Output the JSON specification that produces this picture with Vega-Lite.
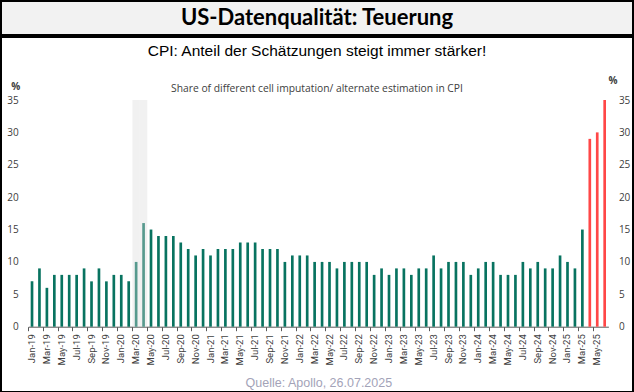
{
  "$schema": "https://vega.github.io/schema/vega-lite/v6.json",
  "padding": 0,
  "spacing": 0,
  "background": "white",
  "config": {"concat": {"spacing": 0}},
  "vconcat": [
    {
      "width": 632,
      "height": 34,
      "view": {"fill": "#f2f2f2", "stroke": "black", "strokeWidth": 2},
      "data": {"values": [{"title": "US-Datenqualität: Teuerung"}]},
      "mark": {"type": "text", "font": "Lato", "fontSize": 22, "fontWeight": "bold", "color": "black", "baseline": "middle", "align": "center", "dy": -0.5},
      "encoding": {"text": {"field": "title"}}
    },
    {
      "width": 632,
      "height": 355,
      "view": {"fill": "white", "stroke": "black", "strokeWidth": 2},
      "title": {
        "text": "CPI: Anteil der Schätzungen steigt immer stärker!",
        "subtitle": "Share of different cell imputation/ alternate estimation in CPI",
        "offset": -57,
        "anchor": "middle",
        "frame": "group",
        "font": "Liberation Sans",
        "fontSize": 15.5,
        "fontWeight": "normal",
        "color": "black",
        "subtitleFont": "Open Sans",
        "subtitleFontSize": 10.3,
        "subtitleColor": "#404040",
        "subtitlePadding": 24
      },
      "data": {"values": [
        {"m": "Jan-19", "date": "2019-01", "v": 7},
        {"m": "Feb-19", "date": "2019-02", "v": 9},
        {"m": "Mar-19", "date": "2019-03", "v": 6},
        {"m": "Apr-19", "date": "2019-04", "v": 8},
        {"m": "May-19", "date": "2019-05", "v": 8},
        {"m": "Jun-19", "date": "2019-06", "v": 8},
        {"m": "Jul-19", "date": "2019-07", "v": 8},
        {"m": "Aug-19", "date": "2019-08", "v": 9},
        {"m": "Sep-19", "date": "2019-09", "v": 7},
        {"m": "Oct-19", "date": "2019-10", "v": 9},
        {"m": "Nov-19", "date": "2019-11", "v": 7},
        {"m": "Dec-19", "date": "2019-12", "v": 8},
        {"m": "Jan-20", "date": "2020-01", "v": 8},
        {"m": "Feb-20", "date": "2020-02", "v": 7},
        {"m": "Mar-20", "date": "2020-03", "v": 10},
        {"m": "Apr-20", "date": "2020-04", "v": 16},
        {"m": "May-20", "date": "2020-05", "v": 15},
        {"m": "Jun-20", "date": "2020-06", "v": 14},
        {"m": "Jul-20", "date": "2020-07", "v": 14},
        {"m": "Aug-20", "date": "2020-08", "v": 14},
        {"m": "Sep-20", "date": "2020-09", "v": 13},
        {"m": "Oct-20", "date": "2020-10", "v": 12},
        {"m": "Nov-20", "date": "2020-11", "v": 11},
        {"m": "Dec-20", "date": "2020-12", "v": 12},
        {"m": "Jan-21", "date": "2021-01", "v": 11},
        {"m": "Feb-21", "date": "2021-02", "v": 12},
        {"m": "Mar-21", "date": "2021-03", "v": 12},
        {"m": "Apr-21", "date": "2021-04", "v": 12},
        {"m": "May-21", "date": "2021-05", "v": 13},
        {"m": "Jun-21", "date": "2021-06", "v": 13},
        {"m": "Jul-21", "date": "2021-07", "v": 13},
        {"m": "Aug-21", "date": "2021-08", "v": 12},
        {"m": "Sep-21", "date": "2021-09", "v": 12},
        {"m": "Oct-21", "date": "2021-10", "v": 12},
        {"m": "Nov-21", "date": "2021-11", "v": 10},
        {"m": "Dec-21", "date": "2021-12", "v": 11},
        {"m": "Jan-22", "date": "2022-01", "v": 11},
        {"m": "Feb-22", "date": "2022-02", "v": 11},
        {"m": "Mar-22", "date": "2022-03", "v": 10},
        {"m": "Apr-22", "date": "2022-04", "v": 10},
        {"m": "May-22", "date": "2022-05", "v": 10},
        {"m": "Jun-22", "date": "2022-06", "v": 9},
        {"m": "Jul-22", "date": "2022-07", "v": 10},
        {"m": "Aug-22", "date": "2022-08", "v": 10},
        {"m": "Sep-22", "date": "2022-09", "v": 10},
        {"m": "Oct-22", "date": "2022-10", "v": 10},
        {"m": "Nov-22", "date": "2022-11", "v": 8},
        {"m": "Dec-22", "date": "2022-12", "v": 9},
        {"m": "Jan-23", "date": "2023-01", "v": 8},
        {"m": "Feb-23", "date": "2023-02", "v": 9},
        {"m": "Mar-23", "date": "2023-03", "v": 9},
        {"m": "Apr-23", "date": "2023-04", "v": 8},
        {"m": "May-23", "date": "2023-05", "v": 9},
        {"m": "Jun-23", "date": "2023-06", "v": 9},
        {"m": "Jul-23", "date": "2023-07", "v": 11},
        {"m": "Aug-23", "date": "2023-08", "v": 9},
        {"m": "Sep-23", "date": "2023-09", "v": 10},
        {"m": "Oct-23", "date": "2023-10", "v": 10},
        {"m": "Nov-23", "date": "2023-11", "v": 10},
        {"m": "Dec-23", "date": "2023-12", "v": 8},
        {"m": "Jan-24", "date": "2024-01", "v": 9},
        {"m": "Feb-24", "date": "2024-02", "v": 10},
        {"m": "Mar-24", "date": "2024-03", "v": 10},
        {"m": "Apr-24", "date": "2024-04", "v": 8},
        {"m": "May-24", "date": "2024-05", "v": 8},
        {"m": "Jun-24", "date": "2024-06", "v": 8},
        {"m": "Jul-24", "date": "2024-07", "v": 10},
        {"m": "Aug-24", "date": "2024-08", "v": 9},
        {"m": "Sep-24", "date": "2024-09", "v": 10},
        {"m": "Oct-24", "date": "2024-10", "v": 9},
        {"m": "Nov-24", "date": "2024-11", "v": 9},
        {"m": "Dec-24", "date": "2024-12", "v": 11},
        {"m": "Jan-25", "date": "2025-01", "v": 10},
        {"m": "Feb-25", "date": "2025-02", "v": 9},
        {"m": "Mar-25", "date": "2025-03", "v": 15},
        {"m": "Apr-25", "date": "2025-04", "v": 29},
        {"m": "May-25", "date": "2025-05", "v": 30},
        {"m": "Jun-25", "date": "2025-06", "v": 35}
      ]},
      "resolve": {"axis": {"x": "independent", "y": "independent"}},
      "layer": [
        {
          "mark": {"type": "bar", "width": {"band": 0.36}},
          "encoding": {
            "x": {
              "field": "m", "type": "ordinal", "sort": null,
              "scale": {"range": [27.3, 607.4], "paddingInner": 0, "paddingOuter": 0},
              "axis": {
                "orient": "bottom", "offset": -65.3,
                "values": ["Jan-19","Mar-19","May-19","Jul-19","Sep-19","Nov-19","Jan-20","Mar-20","May-20","Jul-20","Sep-20","Nov-20","Jan-21","Mar-21","May-21","Jul-21","Sep-21","Nov-21","Jan-22","Mar-22","May-22","Jul-22","Sep-22","Nov-22","Jan-23","Mar-23","May-23","Jul-23","Sep-23","Nov-23","Jan-24","Mar-24","May-24","Jul-24","Sep-24","Nov-24","Jan-25","Mar-25","May-25"],
                "labelAngle": -90, "labelFont": "Liberation Sans Narrow, Roboto", "labelFontSize": 9.5, "labelColor": "#404040",
                "labelPadding": 7, "ticks": false, "domain": true, "domainColor": "#595959", "grid": false,
                "title": "Quelle: Apollo, 26.07.2025", "titleFont": "Liberation Sans", "titleFontSize": 12.5,
                "titleFontWeight": "normal", "titleColor": "#a3a3b8", "titleY": 56, "titleBaseline": "middle"
              }
            },
            "y": {
              "field": "v", "type": "quantitative",
              "scale": {"domain": [0, 35], "range": [289.7, 63], "nice": false},
              "axis": {
                "orient": "left", "offset": -27.3, "values": [0,5,10,15,20,25,30,35],
                "domain": false, "ticks": false, "grid": false, "labelPadding": 10,
                "labelFont": "Open Sans", "labelFontSize": 10, "labelColor": "#404040",
                "title": "%", "titleAngle": 0, "titleX": -13, "titleY": 49.5, "titleAlign": "center",
                "titleBaseline": "middle", "titleFont": "Open Sans", "titleFontSize": 10, "titleFontWeight": "bold", "titleColor": "#404040"
              }
            },
            "color": {"condition": {"test": "datum.date >= '2025-04'", "value": "#ff4747"}, "value": "#087360"}
          }
        },
        {
          "mark": {"type": "bar", "width": {"band": 1}, "color": "#dadada"},
          "encoding": {
            "x": {
              "field": "m", "type": "ordinal", "sort": null,
              "axis": {
                "orient": "bottom", "offset": -65.3,
                "values": ["Jan-19","Mar-19","May-19","Jul-19","Sep-19","Nov-19","Jan-20","Mar-20","May-20","Jul-20","Sep-20","Nov-20","Jan-21","Mar-21","May-21","Jul-21","Sep-21","Nov-21","Jan-22","Mar-22","May-22","Jul-22","Sep-22","Nov-22","Jan-23","Mar-23","May-23","Jul-23","Sep-23","Nov-23","Jan-24","Mar-24","May-24","Jul-24","Sep-24","Nov-24","Jan-25","Mar-25","May-25"],
                "labels": false, "ticks": true, "tickSize": 4, "tickColor": "#595959", "bandPosition": 0,
                "domain": false, "grid": false, "title": null
              }
            },
            "y": {
              "datum": 35, "type": "quantitative",
              "axis": {
                "orient": "right", "offset": -24.6, "values": [0,5,10,15,20,25,30,35],
                "domain": false, "ticks": false, "grid": false, "labelPadding": 10,
                "labelFont": "Open Sans", "labelFontSize": 10, "labelColor": "#404040",
                "title": "%", "titleAngle": 0, "titleX": 4, "titleY": 43.5, "titleAlign": "center",
                "titleBaseline": "middle", "titleFont": "Open Sans", "titleFontSize": 10, "titleFontWeight": "bold", "titleColor": "#404040"
              }
            },
            "opacity": {"condition": {"test": "datum.date >= '2020-03' && datum.date <= '2020-04'", "value": 0.38}, "value": 0}
          }
        }
      ]
    }
  ]
}
